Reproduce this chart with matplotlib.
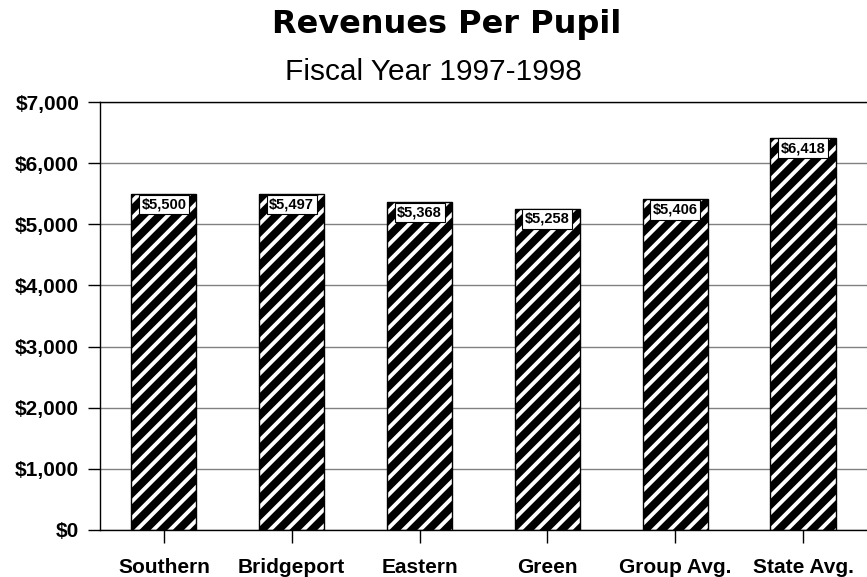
import matplotlib
matplotlib.use('Agg')
import matplotlib.pyplot as plt
from matplotlib.ticker import FuncFormatter

districts = ['Southern', 'Bridgeport', 'Eastern', 'Green', 'Group Avg.', 'State Avg.']
revenue = [5500, 5497, 5368, 5258, 5406, 6418]

plt.rcParams['font.family'] = 'Liberation Sans'
plt.rcParams['hatch.linewidth'] = 2.8

fig = plt.figure(figsize=(8.67, 5.77), dpi=100)
ax = fig.add_axes([0.1153, 0.0815, 0.8847, 0.7417])

x = range(len(districts))
# black bars with white diagonal stripes, then a thin outline on top
ax.bar(x, revenue, width=0.51, color='black', edgecolor='white',
       hatch='//', linewidth=0, zorder=2)
ax.bar(x, revenue, width=0.51, fill=False, edgecolor='black',
       linewidth=1, zorder=3)

for i, v in enumerate(revenue):
    ax.annotate('${:,}'.format(v), (i, v), xytext=(0, -2.5),
                textcoords='offset points', ha='center', va='top',
                fontsize=10.5, fontweight='bold', zorder=4,
                bbox=dict(boxstyle='square,pad=0.18', fc='white',
                          ec='black', lw=0.8))

ax.set_xlim(-0.5, 5.5)
ax.set_ylim(0, 7000)
ax.set_yticks(range(0, 7001, 1000))
ax.yaxis.set_major_formatter(FuncFormatter(lambda v, p: '${:,.0f}'.format(v)))
ax.set_xticks(list(x))
ax.set_xticklabels(districts)

ax.grid(axis='y', color='#808080', linewidth=1, zorder=0)
ax.set_axisbelow(True)
ax.spines['right'].set_visible(False)
for s in ['left', 'top', 'bottom']:
    ax.spines[s].set_linewidth(1)
ax.tick_params(axis='both', length=9, width=1, direction='out',
               labelsize=15, pad=6)
ax.tick_params(axis='x', pad=11)
for lab in ax.get_xticklabels() + ax.get_yticklabels():
    lab.set_fontweight('bold')

fig.text(0.515, 0.958, 'Revenues Per Pupil', ha='center', va='center',
         fontsize=23, fontweight='bold', family='DejaVu Sans')
fig.text(0.5, 0.875, 'Fiscal Year 1997-1998', ha='center', va='center',
         fontsize=21.5)

fig.savefig('out.png', dpi=100)
